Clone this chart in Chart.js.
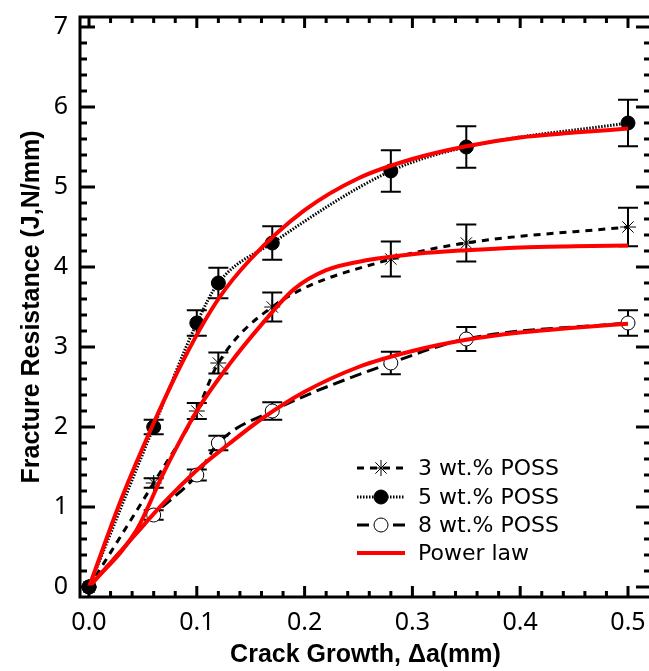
<!DOCTYPE html>
<html>
<head>
<meta charset="utf-8">
<script src="https://cdn.jsdelivr.net/npm/chart.js@4/dist/chart.umd.min.js"></script>
<style>
  html, body { margin: 0; padding: 0; background: #fff; overflow: hidden; }
  #wrap { width: 660px; height: 671px; }
</style>
</head>
<body>
<div id="wrap"><canvas id="chart" width="660" height="671"></canvas></div>
<script>
// measured points (crack growth in mm)
const crackGrowth = [0, 0.06, 0.10, 0.12, 0.17, 0.28, 0.35, 0.50];
const poss3 = [0, 1.3, 2.2, 2.8, 3.5, 4.1, 4.3, 4.5];
const poss5 = [0, 2.0, 3.3, 3.8, 4.3, 5.2, 5.5, 5.8];
const poss8 = [0, 0.9, 1.4, 1.8, 2.2, 2.8, 3.1, 3.3];
const err3 = [0, 0.06, 0.10, 0.13, 0.18, 0.22, 0.23, 0.24];
const err5 = [0, 0.09, 0.16, 0.19, 0.21, 0.26, 0.26, 0.29];
const err8 = [0, 0.06, 0.07, 0.09, 0.11, 0.14, 0.15, 0.16];

// power law fits
const fitX5 = [0, 0.03, 0.06, 0.09, 0.12, 0.15, 0.2, 0.25, 0.3, 0.35, 0.4, 0.45, 0.5];
const fitY5 = [0, 1.1, 2.05, 2.9, 3.6, 4.1, 4.71, 5.11, 5.35, 5.51, 5.62, 5.68, 5.73];
const fitX3 = [0, 0.044, 0.07, 0.1, 0.13, 0.16, 0.19, 0.22, 0.26, 0.3, 0.35, 0.4, 0.45, 0.5];
const fitY3 = [0, 0.71, 1.45, 2.2, 2.78, 3.28, 3.72, 3.96, 4.09, 4.16, 4.21, 4.245, 4.26, 4.27];
const fitX8 = [0, 0.04, 0.07, 0.1, 0.13, 0.16, 0.2, 0.25, 0.3, 0.35, 0.4, 0.45, 0.5];
const fitY8 = [0, 0.61, 1.06, 1.46, 1.79, 2.1, 2.44, 2.75, 2.95, 3.09, 3.18, 3.24, 3.29];

const xTicks = [0, 0.1, 0.2, 0.3, 0.4, 0.5];
const yTicks = [0, 1, 2, 3, 4, 5, 6, 7];

const pts = (xs, ys) => xs.map((x, i) => ({ x: x, y: ys[i] }));
const tickFont = { family: 'Noto Sans', size: 25 };
const titleFont = { family: 'Liberation Sans', size: 25, weight: 'bold' };

function fitLine(label, xs, ys) {
  return {
    label: label, data: pts(xs, ys), borderColor: '#ff0000', borderWidth: 4,
    pointRadius: 0, cubicInterpolationMode: 'monotone', order: 0
  };
}

const datasets = [
  {
    label: '3 wt.% POSS', data: pts(crackGrowth, poss3), errors: err3,
    borderColor: '#000', borderWidth: 3, borderDash: [7, 6],
    pointStyle: 'star', pointRadius: 8, pointBorderColor: '#000', pointBorderWidth: 1,
    pointBackgroundColor: '#fff', cubicInterpolationMode: 'monotone', order: 1
  },
  {
    label: '5 wt.% POSS', data: pts(crackGrowth, poss5), errors: err5,
    borderColor: '#000', borderWidth: 3, borderDash: [1.5, 1.5],
    pointStyle: 'circle', pointRadius: 7, pointBorderColor: '#000', pointBorderWidth: 1,
    pointBackgroundColor: '#000', cubicInterpolationMode: 'monotone', order: 1
  },
  {
    label: '8 wt.% POSS', data: pts(crackGrowth, poss8), errors: err8,
    borderColor: '#000', borderWidth: 3, borderDash: [12, 6],
    pointStyle: 'circle', pointRadius: 7, pointBorderColor: '#000', pointBorderWidth: 1,
    pointBackgroundColor: '#fff', cubicInterpolationMode: 'monotone', order: 1
  },
  fitLine('Power law', fitX3, fitY3),
  fitLine('', fitX5, fitY5),
  fitLine('', fitX8, fitY8)
];

// vertical error bars with caps, under the markers
const errorBars = {
  id: 'errorBars',
  beforeDatasetsDraw(chart) {
    const ctx = chart.ctx, xs = chart.scales.x, ys = chart.scales.y;
    ctx.save();
    ctx.strokeStyle = '#000';
    ctx.lineWidth = 2;
    chart.data.datasets.forEach(ds => {
      if (!ds.errors) return;
      ds.data.forEach((p, i) => {
        const e = ds.errors[i];
        if (!e) return;
        const px = xs.getPixelForValue(p.x);
        const top = ys.getPixelForValue(p.y + e), bot = ys.getPixelForValue(p.y - e);
        ctx.beginPath();
        ctx.moveTo(px, top); ctx.lineTo(px, bot);
        ctx.moveTo(px - 10, top); ctx.lineTo(px + 10, top);
        ctx.moveTo(px - 10, bot); ctx.lineTo(px + 10, bot);
        ctx.stroke();
      });
    });
    ctx.restore();
  }
};

// box frame with inward ticks on all four sides
const frame = {
  id: 'frame',
  afterDraw(chart) {
    const ctx = chart.ctx, a = chart.chartArea, xs = chart.scales.x, ys = chart.scales.y;
    ctx.save();
    ctx.strokeStyle = '#000';
    ctx.lineWidth = 3;
    ctx.beginPath();
    for (let i = 0; i <= 25; i++) {
      const px = xs.getPixelForValue(i * 0.02);
      const len = i % 5 === 0 ? 11 : 6;
      ctx.moveTo(px, a.bottom); ctx.lineTo(px, a.bottom - len);
      ctx.moveTo(px, a.top); ctx.lineTo(px, a.top + len);
    }
    for (let i = 0; i <= 35; i++) {
      const py = ys.getPixelForValue(i * 0.2);
      const len = i % 5 === 0 ? 15 : 7;
      ctx.moveTo(a.left, py); ctx.lineTo(a.left + len, py);
      ctx.moveTo(a.right, py); ctx.lineTo(a.right - len, py);
    }
    ctx.stroke();
    ctx.strokeRect(a.left, a.top, a.right - a.left, a.bottom - a.top);
    ctx.restore();
  }
};

// legend drawn inside the plot
const innerLegend = {
  id: 'innerLegend',
  afterDraw(chart) {
    const ctx = chart.ctx;
    const rows = [468, 497, 525, 553];
    const x0 = 357, x1 = 405, tx = 418;
    ctx.save();
    ctx.font = '22px "DejaVu Sans"';
    ctx.textBaseline = 'middle';
    chart.data.datasets.slice(0, 4).forEach((ds, i) => {
      const y = rows[i];
      ctx.strokeStyle = ds.borderColor;
      ctx.lineWidth = ds.borderWidth;
      ctx.setLineDash(ds.borderDash || []);
      ctx.beginPath(); ctx.moveTo(x0, y); ctx.lineTo(x1, y); ctx.stroke();
      ctx.setLineDash([]);
      if (ds.pointRadius) {
        ctx.fillStyle = ds.pointBackgroundColor;
        ctx.strokeStyle = ds.pointBorderColor;
        ctx.lineWidth = ds.pointBorderWidth;
        Chart.helpers.drawPoint(ctx, { pointStyle: ds.pointStyle, radius: ds.pointRadius, rotation: 0, borderWidth: 1 }, (x0 + x1) / 2, y);
      }
      ctx.fillStyle = '#000';
      ctx.fillText(ds.label, tx, y + 1);
    });
    ctx.restore();
  }
};

new Chart(document.getElementById('chart'), {
  type: 'line',
  data: { datasets: datasets },
  options: {
    responsive: false,
    animation: false,
    devicePixelRatio: 1,
    layout: { padding: { top: 17, right: 9, left: 0, bottom: 0 } },
    plugins: { legend: { display: false }, tooltip: { enabled: false } },
    scales: {
      x: {
        type: 'linear', min: -9 / 1078, max: 562 / 1078,
        afterFit(s) { s.height = 74; s.paddingLeft = 0; s.paddingRight = 0; },
        afterBuildTicks(s) { s.ticks = xTicks.map(v => ({ value: v })); },
        grid: { display: false, drawTicks: false },
        border: { display: false },
        ticks: { font: tickFont, color: '#000', padding: 11, callback: v => v.toFixed(1), maxRotation: 0 },
        title: { display: true, text: 'Crack Growth, Δa(mm)', font: titleFont, color: '#000', padding: { top: 0, bottom: 1 } }
      },
      y: {
        type: 'linear', min: -0.125, max: 7.125,
        afterFit(s) { s.width = 80; s.paddingTop = 0; s.paddingBottom = 0; },
        afterBuildTicks(s) { s.ticks = yTicks.map(v => ({ value: v })); },
        grid: { display: false, drawTicks: false },
        border: { display: false },
        ticks: { font: tickFont, color: '#000', padding: 12 },
        title: { display: true, text: 'Fracture Resistance (J,N/mm)', font: titleFont, color: '#000', padding: { top: 17, bottom: 0 } }
      }
    }
  },
  plugins: [errorBars, frame, innerLegend]
});
</script>
</body>
</html>
